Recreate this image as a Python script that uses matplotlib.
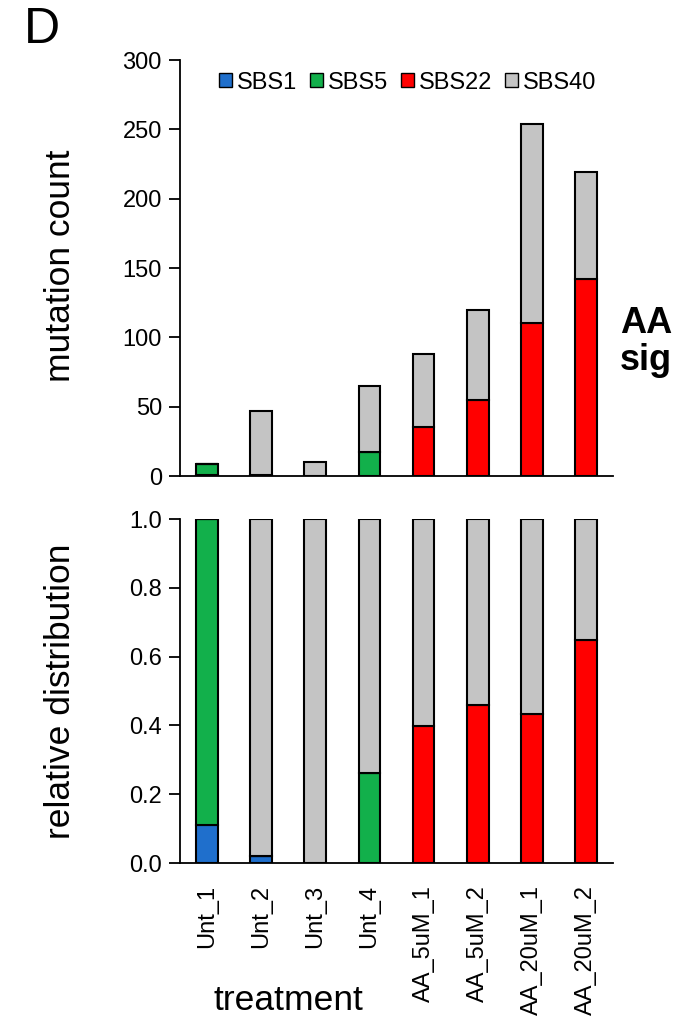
import numpy as np
import matplotlib
matplotlib.use("Agg")
import matplotlib.pyplot as plt
from matplotlib.patches import Patch

plt.rcParams['font.family'] = ['Liberation Sans', 'DejaVu Sans']

# data
samples = ["Unt_1", "Unt_2", "Unt_3", "Unt_4",
           "AA_5uM_1", "AA_5uM_2", "AA_20uM_1", "AA_20uM_2"]
sigs = ["SBS1", "SBS5", "SBS22", "SBS40"]
sbs1 = [1, 1, 0, 0, 0, 0, 0, 0]
sbs5 = [8, 0, 0, 17, 0, 0, 0, 0]
sbs22 = [0, 0, 0, 0, 35, 55, 110, 142]
sbs40 = [0, 46, 10, 48, 53, 65, 144, 77]
colors = ["#1F6FCC", "#12B04B", "#FF0000", "#C4C4C4"]

counts = np.array([sbs1, sbs5, sbs22, sbs40], dtype=float)
rel = counts / counts.sum(axis=0)

fig = plt.figure(figsize=(6.79, 10.29), dpi=100)
W, H = 679, 1029
ax1 = fig.add_axes([180 / W, 1 - 476 / H, (613 - 180) / W, (476 - 60) / H])
ax2 = fig.add_axes([180 / W, 1 - 863 / H, (613 - 180) / W, (863 - 519) / H])

x = np.arange(len(samples))
for ax, vals in [(ax1, counts), (ax2, rel)]:
    bottom = np.zeros(len(samples))
    for i in range(len(sigs)):
        ax.bar(x, vals[i], 0.4, bottom=bottom, color=colors[i],
               edgecolor="black", linewidth=1.5, zorder=3)
        bottom += vals[i]
    ax.set_xlim(-0.5, 7.5)
    ax.spines['top'].set_visible(False)
    ax.spines['right'].set_visible(False)
    ax.spines['left'].set_linewidth(1.3)
    ax.spines['bottom'].set_linewidth(1.3)
    ax.tick_params(axis='y', direction='out', length=8, width=1.3, labelsize=17, pad=5)
    ax.tick_params(axis='x', length=0, labelsize=17, pad=16)

ax1.set_ylim(0, 300)
ax1.set_yticks(range(0, 301, 50))
ax1.set_xticks(x)
ax1.set_xticklabels([])

ax2.set_ylim(0, 1.0)
ax2.set_yticks(np.arange(0, 1.01, 0.2))
ax2.set_yticklabels([f"{v:.1f}" for v in np.arange(0, 1.01, 0.2)])
ax2.set_xticks(x)
ax2.set_xticklabels(samples, rotation=90, va='top')

fig.text(60 / W, 1 - 266 / H, "mutation count", fontsize=25.5, rotation=90,
         va='center', ha='center')
fig.text(60 / W, 1 - 691 / H, "relative distribution", fontsize=25.5, rotation=90,
         va='center', ha='center')

handles = [Patch(facecolor=c, edgecolor="black", linewidth=1) for c in colors]
ax1.legend(handles, sigs, loc='upper center', bbox_to_anchor=(0.525, 0.995), ncol=4,
           frameon=False, fontsize=17, handlelength=0.55, handleheight=0.55,
           handletextpad=0.2, columnspacing=0.55, borderaxespad=0)

fig.text(24 / W, 1 - 30 / H, "D", fontsize=36, va='center', ha='left')
fig.text(620 / W, 1 - 342 / H, "AA\nsig", fontsize=26, fontweight='bold',
         va='center', ha='left', linespacing=1.1)
fig.text(288 / W, 1 - 1001 / H, "treatment", fontsize=25.5, va='center', ha='center')

fig.savefig("out.png", dpi=100)
